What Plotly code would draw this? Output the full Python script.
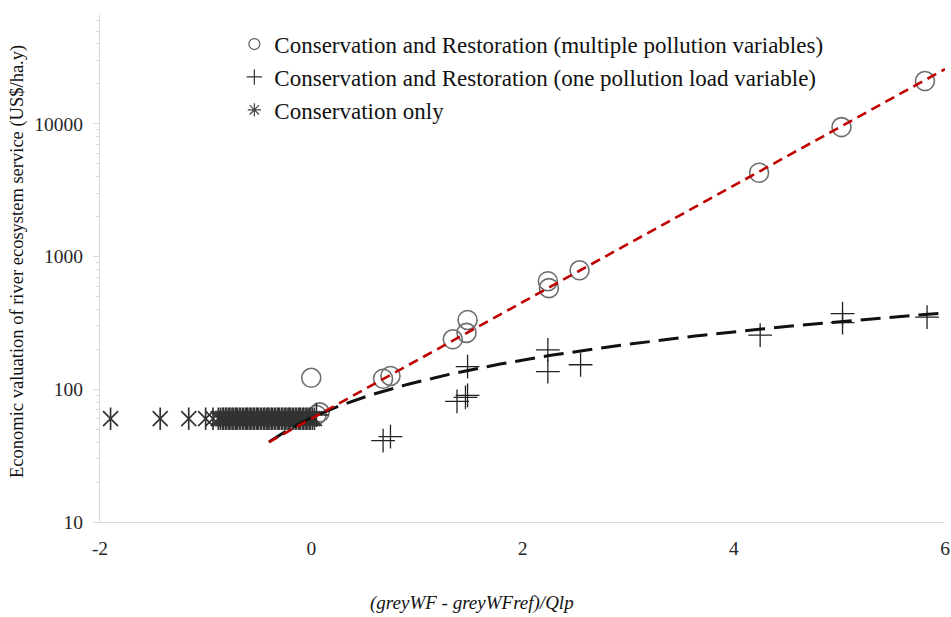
import numpy as np
import plotly.graph_objects as go

# --- data -------------------------------------------------------------
# Conservation and Restoration (multiple pollution variables)
multi_x = [0.00, 0.05, 0.08, 0.68, 0.75, 1.34, 1.47, 1.48, 2.24, 2.25, 2.54, 4.24, 5.02, 5.81]
multi_y = [122, 64, 67, 120, 126, 238, 266, 333, 652, 578, 788, 4280, 9450, 21000]

# Conservation and Restoration (one pollution load variable)
load_x = [0.05, 0.68, 0.75, 1.38, 1.46, 1.48, 1.48, 2.24, 2.24, 2.55, 4.25, 5.03, 5.03, 5.83]
load_y = [64, 41, 44, 81, 87, 90, 148, 198, 136, 153, 256, 372, 318, 350]

# Conservation only
cons_x = [-1.90, -1.43, -1.16, -1.00, -0.93, -0.88, -0.86, -0.84, -0.83, -0.81,
          -0.80, -0.78, -0.77, -0.75, -0.74, -0.72, -0.71, -0.70, -0.68, -0.67,
          -0.65, -0.64, -0.62, -0.61, -0.60, -0.58, -0.57, -0.55, -0.54, -0.52,
          -0.51, -0.50, -0.48, -0.47, -0.45, -0.44, -0.42, -0.41, -0.40, -0.38,
          -0.37, -0.35, -0.34, -0.32, -0.31, -0.30, -0.28, -0.27, -0.25, -0.24,
          -0.22, -0.21, -0.20, -0.18, -0.17, -0.15, -0.14, -0.12, -0.11, -0.10,
          -0.08, -0.07, -0.05, -0.04, -0.02, -0.01, 0.01, 0.03]
cons_y = [60] * len(cons_x)

# Trendline equations
EXP_A, EXP_B = 60.0, 1.011      # y = A * exp(B x)
LIN_M, LIN_C = 52.5, 61.0       # y = M x + C
TREND_X0, TREND_X1 = -0.40, 6.0

x_ticks = [-2, 0, 2, 4, 6]
x_ticktext = ["-2", "0", "2", "4", "6"]
y_ticks = [10, 100, 1000, 10000]
y_ticktext = ["10", "100", "1000", "10000"]

SERIF = "Liberation Serif"
TXT = "#262626"
AXIS = "#d9d9d9"

fig = go.Figure()

fig.add_trace(go.Scatter(
    x=multi_x, y=multi_y, mode="markers", showlegend=False,
    marker=dict(symbol="circle-open", size=19, color="#6e6e6e", line=dict(width=1.6, color="#6e6e6e")),
))
fig.add_trace(go.Scatter(
    x=load_x, y=load_y, mode="markers", showlegend=False,
    marker=dict(symbol="cross-thin-open", size=17, color="#222222", line=dict(width=1.3, color="#222222")),
))
# Star marker built from an X and a vertical bar
fig.add_trace(go.Scatter(
    x=cons_x, y=cons_y, mode="markers", showlegend=False,
    marker=dict(symbol="x-thin-open", size=15, color="#333333", line=dict(width=1.7, color="#333333")),
))
fig.add_trace(go.Scatter(
    x=cons_x, y=cons_y, mode="markers", showlegend=False,
    marker=dict(symbol="line-ns-open", size=16, color="#333333", line=dict(width=1.7, color="#333333")),
))

# Trendlines
tx = np.linspace(TREND_X0, TREND_X1, 200)
fig.add_trace(go.Scatter(
    x=tx, y=LIN_M * tx + LIN_C, mode="lines", showlegend=False,
    line=dict(color="#111111", width=3, dash="20px,9px"),
))
fig.add_trace(go.Scatter(
    x=tx, y=EXP_A * np.exp(EXP_B * tx), mode="lines", showlegend=False,
    line=dict(color="#c00000", width=2.6, dash="10px,6px"),
))

# Legend entries with small symbols
legend_items = [
    ("Conservation and Restoration (multiple pollution variables)", "circle-open", "#555555"),
    ("Conservation and Restoration (one pollution load variable)", "cross-thin-open", "#333333"),
    ("Conservation only", "asterisk-open", "#444444"),
]
for i, (name, sym, col) in enumerate(legend_items):
    fig.add_trace(go.Scatter(
        x=[None], y=[None], mode="markers", name=name, legendgroup=f"g{i}",
        marker=dict(symbol=sym, size=11, color=col, line=dict(width=1.2, color=col)),
    ))

fig.update_layout(
    width=951, height=617,
    margin=dict(l=100, r=6, t=15, b=95, autoexpand=False),
    paper_bgcolor="white", plot_bgcolor="white",
    font=dict(family=SERIF, size=18, color=TXT),
    legend=dict(
        x=0.159, y=0.985, xanchor="left", yanchor="top",
        bgcolor="rgba(0,0,0,0)", font=dict(family=SERIF, size=23, color="#111111"),
        traceorder="grouped", tracegroupgap=0, itemwidth=30,
    ),
    annotations=[
        dict(text="Economic valuation of river ecosystem service (US$/ha.y)",
             xref="paper", yref="paper", x=-0.097, y=0.513, textangle=-90,
             showarrow=False, xanchor="center", yanchor="middle",
             font=dict(family=SERIF, size=18.5, color="#111111")),
        dict(text="<i>(greyWF - greyWFref)/Qlp</i>",
             xref="paper", yref="paper", x=0.44, y=-0.16,
             showarrow=False, xanchor="center", yanchor="middle",
             font=dict(family=SERIF, size=19, color="#111111")),
    ],
)

fig.update_xaxes(
    range=[-2, 6], tickvals=x_ticks, ticktext=x_ticktext, automargin=False,
    showgrid=False, zeroline=False, showline=True, linecolor=AXIS, linewidth=1.3,
    ticks="", ticklabelstandoff=8,
    tickfont=dict(family=SERIF, size=19.5, color=TXT),
)
fig.update_yaxes(
    type="log", range=[1, 4.82], tickvals=y_ticks, ticktext=y_ticktext, automargin=False,
    showgrid=False, zeroline=False, showline=True, linecolor=AXIS, linewidth=1.3,
    ticks="outside", ticklen=6, tickcolor=AXIS, ticklabelstandoff=6,
    minor=dict(ticks="outside", ticklen=3, tickcolor=AXIS, dtick="D1", showgrid=False),
    tickfont=dict(family=SERIF, size=19.5, color=TXT),
)

fig.write_html("out.html")
